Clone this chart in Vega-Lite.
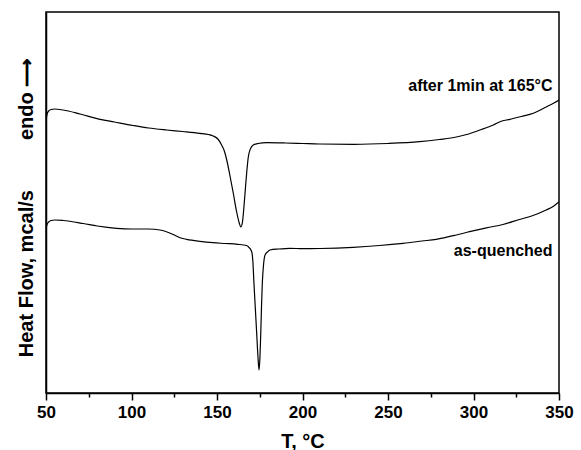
{
  "$schema": "https://vega.github.io/schema/vega-lite/v6.json",
  "autosize": {"type": "none"},
  "width": 513,
  "height": 381,
  "padding": {"left": 46, "top": 12, "right": 22, "bottom": 57},
  "background": "white",
  "config": {
    "view": {"stroke": "black", "strokeWidth": 1.5},
    "font": "Liberation Sans"
  },
  "layer": [
    {
      "data": {
        "values": [
          {"series": "after", "T": 50, "py": 121},
          {"series": "after", "T": 50.5, "py": 115},
          {"series": "after", "T": 51.5, "py": 111},
          {"series": "after", "T": 53, "py": 109.5},
          {"series": "after", "T": 55, "py": 109},
          {"series": "after", "T": 60, "py": 110},
          {"series": "after", "T": 70, "py": 114},
          {"series": "after", "T": 81.6, "py": 119.3},
          {"series": "after", "T": 90, "py": 122},
          {"series": "after", "T": 101, "py": 125.5},
          {"series": "after", "T": 110, "py": 128},
          {"series": "after", "T": 120.6, "py": 130},
          {"series": "after", "T": 130, "py": 131.5},
          {"series": "after", "T": 140, "py": 133.3},
          {"series": "after", "T": 145, "py": 134.5},
          {"series": "after", "T": 147.8, "py": 136},
          {"series": "after", "T": 150.5, "py": 139},
          {"series": "after", "T": 152.7, "py": 145},
          {"series": "after", "T": 154.3, "py": 151},
          {"series": "after", "T": 155.7, "py": 160},
          {"series": "after", "T": 157.5, "py": 175},
          {"series": "after", "T": 159.5, "py": 193},
          {"series": "after", "T": 161.5, "py": 212},
          {"series": "after", "T": 163, "py": 223},
          {"series": "after", "T": 163.9, "py": 227},
          {"series": "after", "T": 164.8, "py": 223},
          {"series": "after", "T": 165.6, "py": 210},
          {"series": "after", "T": 166.4, "py": 193},
          {"series": "after", "T": 167.4, "py": 172},
          {"series": "after", "T": 168.3, "py": 157},
          {"series": "after", "T": 169.5, "py": 149},
          {"series": "after", "T": 171.2, "py": 145},
          {"series": "after", "T": 174, "py": 143.5},
          {"series": "after", "T": 179.1, "py": 142.7},
          {"series": "after", "T": 190, "py": 143},
          {"series": "after", "T": 200, "py": 143.5},
          {"series": "after", "T": 210, "py": 144},
          {"series": "after", "T": 230, "py": 144.3},
          {"series": "after", "T": 250, "py": 143.5},
          {"series": "after", "T": 268.5, "py": 141.7},
          {"series": "after", "T": 280, "py": 139.5},
          {"series": "after", "T": 290, "py": 137},
          {"series": "after", "T": 296, "py": 134.5},
          {"series": "after", "T": 303.8, "py": 130},
          {"series": "after", "T": 311.6, "py": 125},
          {"series": "after", "T": 315.5, "py": 121.7},
          {"series": "after", "T": 321.3, "py": 119.3},
          {"series": "after", "T": 328, "py": 116.5},
          {"series": "after", "T": 335, "py": 113.3},
          {"series": "after", "T": 342.8, "py": 106.7},
          {"series": "after", "T": 347, "py": 103},
          {"series": "after", "T": 350, "py": 100},
          {"series": "quenched", "T": 50, "py": 229},
          {"series": "quenched", "T": 50.5, "py": 225},
          {"series": "quenched", "T": 51.5, "py": 222},
          {"series": "quenched", "T": 53, "py": 220.5},
          {"series": "quenched", "T": 55, "py": 220},
          {"series": "quenched", "T": 60, "py": 220.5},
          {"series": "quenched", "T": 71.8, "py": 223.5},
          {"series": "quenched", "T": 80, "py": 226},
          {"series": "quenched", "T": 91.3, "py": 228.3},
          {"series": "quenched", "T": 100, "py": 229},
          {"series": "quenched", "T": 110, "py": 229},
          {"series": "quenched", "T": 116.6, "py": 230},
          {"series": "quenched", "T": 120, "py": 231.5},
          {"series": "quenched", "T": 124.4, "py": 234.5},
          {"series": "quenched", "T": 128, "py": 237.5},
          {"series": "quenched", "T": 132.3, "py": 239.3},
          {"series": "quenched", "T": 140, "py": 241.3},
          {"series": "quenched", "T": 147.7, "py": 242.7},
          {"series": "quenched", "T": 155, "py": 243.5},
          {"series": "quenched", "T": 162, "py": 244.3},
          {"series": "quenched", "T": 167.3, "py": 245.5},
          {"series": "quenched", "T": 168.3, "py": 246.7},
          {"series": "quenched", "T": 170.3, "py": 251.7},
          {"series": "quenched", "T": 171, "py": 262},
          {"series": "quenched", "T": 171.6, "py": 283},
          {"series": "quenched", "T": 172.4, "py": 308},
          {"series": "quenched", "T": 173.2, "py": 333},
          {"series": "quenched", "T": 174, "py": 358},
          {"series": "quenched", "T": 174.6, "py": 370},
          {"series": "quenched", "T": 175.1, "py": 358},
          {"series": "quenched", "T": 175.6, "py": 333},
          {"series": "quenched", "T": 176, "py": 308},
          {"series": "quenched", "T": 176.5, "py": 283},
          {"series": "quenched", "T": 177.2, "py": 265},
          {"series": "quenched", "T": 178.1, "py": 255},
          {"series": "quenched", "T": 179.5, "py": 252},
          {"series": "quenched", "T": 181, "py": 250},
          {"series": "quenched", "T": 186, "py": 249},
          {"series": "quenched", "T": 192.7, "py": 248.3},
          {"series": "quenched", "T": 200, "py": 248.7},
          {"series": "quenched", "T": 210, "py": 248.5},
          {"series": "quenched", "T": 229.6, "py": 247.3},
          {"series": "quenched", "T": 245, "py": 245.5},
          {"series": "quenched", "T": 258.8, "py": 243.3},
          {"series": "quenched", "T": 270, "py": 241},
          {"series": "quenched", "T": 278.2, "py": 239.3},
          {"series": "quenched", "T": 290, "py": 235},
          {"series": "quenched", "T": 297.7, "py": 231.7},
          {"series": "quenched", "T": 307.6, "py": 227.8},
          {"series": "quenched", "T": 317.2, "py": 224.5},
          {"series": "quenched", "T": 326.9, "py": 219.5},
          {"series": "quenched", "T": 334, "py": 216},
          {"series": "quenched", "T": 342.5, "py": 210},
          {"series": "quenched", "T": 347, "py": 206},
          {"series": "quenched", "T": 350, "py": 201.7}
        ]
      },
      "transform": [{"calculate": "393 - datum.py", "as": "hf"}],
      "mark": {"type": "line", "color": "black", "strokeWidth": 1.2, "interpolate": "monotone", "clip": true},
      "encoding": {
        "x": {
          "field": "T", "type": "quantitative",
          "scale": {"domain": [50, 350], "nice": false, "zero": false},
          "axis": {
            "title": "T, °C",
            "titleFont": "Liberation Sans", "titleFontSize": 20, "titleFontWeight": "bold", "titleColor": "black",
            "titleBaseline": "alphabetic", "titleY": 54,
            "values": [50, 75, 100, 125, 150, 175, 200, 225, 250, 275, 300, 325, 350],
            "labelExpr": "datum.value % 50 === 0 ? datum.label : ''",
            "labelFont": "Liberation Sans", "labelFontSize": 17, "labelFontWeight": "bold", "labelColor": "black",
            "labelPadding": 4, "labelFlush": false, "labelOverlap": false,
            "tickColor": "black", "tickWidth": 1.5,
            "tickSize": {"condition": {"test": "datum.value % 50 === 0", "value": 7}, "value": 4},
            "domainColor": "black", "domainWidth": 1.5, "grid": false
          }
        },
        "y": {
          "field": "hf", "type": "quantitative",
          "scale": {"domain": [0, 381], "nice": false, "zero": false},
          "axis": {
            "title": "Heat Flow, mcal/s\u00a0\u00a0\u00a0\u00a0\u00a0\u00a0\u00a0\u00a0\u00a0endo \u27f6",
            "titleFont": "Liberation Sans", "titleFontSize": 20, "titleFontWeight": "bold", "titleColor": "black",
            "titleAngle": -90, "titleBaseline": "alphabetic", "titleAlign": "center",
            "titleX": -14, "titleY": 195,
            "labels": false, "ticks": false, "grid": false,
            "domainColor": "black", "domainWidth": 1.5
          }
        },
        "detail": {"field": "series"}
      }
    },
    {
      "data": {
        "values": [
          {"T": 346.2, "hf": 302.3, "label": "after 1min at 165°C"},
          {"T": 346.2, "hf": 137, "label": "as-quenched"}
        ]
      },
      "mark": {"type": "text", "align": "right", "baseline": "alphabetic", "font": "Liberation Sans", "fontSize": 16, "fontWeight": "bold", "color": "black"},
      "encoding": {
        "x": {"field": "T", "type": "quantitative"},
        "y": {"field": "hf", "type": "quantitative"},
        "text": {"field": "label"}
      }
    }
  ]
}
